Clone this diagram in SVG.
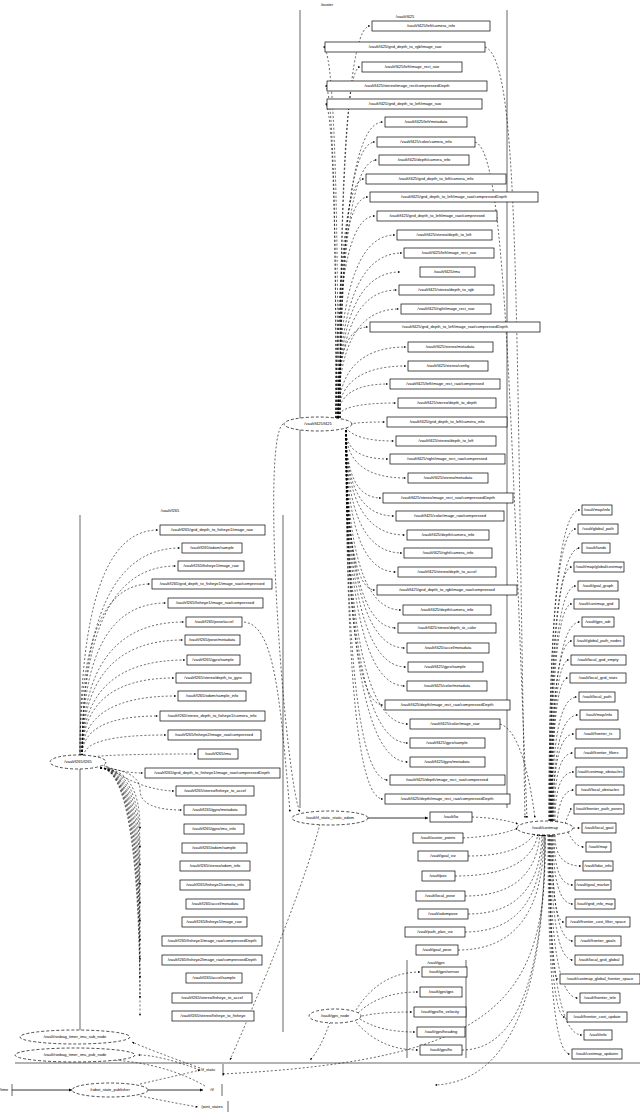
<svg xmlns="http://www.w3.org/2000/svg" width="640" height="1112" viewBox="0 0 640 1112">
<style>
text{font-family:"Liberation Sans",Arial,sans-serif;font-size:4px;fill:#000;text-anchor:middle;dominant-baseline:middle}
.b{fill:#fff;stroke:#000;stroke-width:0.7}
.n{fill:#fff;stroke:#000;stroke-width:0.7;stroke-dasharray:3,2}
.c{fill:none;stroke:#000;stroke-width:0.6}
.e{fill:none;stroke:#000;stroke-width:0.6;stroke-dasharray:2,2;marker-end:url(#a)}
.s{fill:none;stroke:#000;stroke-width:0.8;marker-end:url(#a)}
</style>
<defs><marker id="a" viewBox="0 0 6 6" refX="6" refY="3" markerWidth="4" markerHeight="4" orient="auto"><path d="M0,0L6,3L0,6z"/></marker></defs>
<rect width="640" height="1112" fill="#fff"/>
<g id="clusters">
<text x="327" y="5">/ouster</text>
<path class="c" d="M300,10V808M507,10V808"/>
<text x="405" y="17">/vault/f425</text>
<path class="c" d="M80,515V1032M283,515V1032"/>
<text x="170" y="511">/vault/f265</text>
<path class="c" d="M407,960V1058M466,960V1058"/>
<text x="436" y="963">/vault/gps</text>
<path class="c" d="M15,1063H640"/>
</g>
<g id="connectors">
<path class="e" d="M340,418Q340,26 370,26"/>
<path class="e" d="M338,418Q338,47 323,47"/>
<path class="e" d="M340,418Q340,67 360,67"/>
<path class="e" d="M336,418Q336,86 325,86"/>
<path class="e" d="M336,418Q336,104 325,104"/>
<path class="e" d="M340,418Q340,122 383,122"/>
<path class="e" d="M340,418Q340,142 375,142"/>
<path class="e" d="M340,418Q340,160 377,160"/>
<path class="e" d="M338,418Q338,179 364,179"/>
<path class="e" d="M336,418Q336,197 368,197"/>
<path class="e" d="M336,418Q336,216 375,216"/>
<path class="e" d="M338,418Q338,235 395,235"/>
<path class="e" d="M338,418Q338,253 402,253"/>
<path class="e" d="M338,418Q338,272 400,272"/>
<path class="e" d="M338,418Q338,290 397,290"/>
<path class="e" d="M338,418Q338,309 399,309"/>
<path class="e" d="M336,418Q336,327 368,327"/>
<path class="e" d="M338,418Q338,347 406,347"/>
<path class="e" d="M338,418Q338,366 406,366"/>
<path class="e" d="M338,418Q338,384 388,384"/>
<path class="e" d="M338,418Q338,403 396,403"/>
<path class="e" d="M350,424Q360,422 385,422"/>
<path class="e" d="M346,428Q356,441 394,441"/>
<path class="e" d="M346,430Q346,459 388,459"/>
<path class="e" d="M346,430Q346,478 406,478"/>
<path class="e" d="M346,430Q346,498 381,498"/>
<path class="e" d="M346,430Q346,516 394,516"/>
<path class="e" d="M346,430Q346,535 405,535"/>
<path class="e" d="M346,430Q346,553 402,553"/>
<path class="e" d="M346,430Q346,572 396,572"/>
<path class="e" d="M346,430Q346,590 375,590"/>
<path class="e" d="M346,430Q346,610 401,610"/>
<path class="e" d="M346,430Q346,628 396,628"/>
<path class="e" d="M346,430Q346,648 405,648"/>
<path class="e" d="M346,430Q346,667 406,667"/>
<path class="e" d="M346,430Q346,686 405,686"/>
<path class="e" d="M346,430Q346,705 383,705"/>
<path class="e" d="M346,430Q346,724 408,724"/>
<path class="e" d="M346,430Q346,743 408,743"/>
<path class="e" d="M346,430Q346,762 408,762"/>
<path class="e" d="M346,430Q346,780 388,780"/>
<path class="e" d="M346,430Q346,799 383,799"/>
<path class="e" d="M485,47C520,60 515,300 525,818"/>
<path class="e" d="M475,142C505,150 510,400 527,818"/>
<path class="e" d="M500,724C520,730 530,780 535,818"/>
<path class="e" d="M283,424C260,440 285,780 300,812"/>
<path class="e" d="M80,756Q80,530 158,530"/>
<path class="e" d="M82,756Q82,548 180,548"/>
<path class="e" d="M82,756Q82,566 176,566"/>
<path class="e" d="M80,756Q80,584 150,584"/>
<path class="e" d="M82,756Q82,603 166,603"/>
<path class="e" d="M82,756Q82,622 184,622"/>
<path class="e" d="M82,756Q82,640 183,640"/>
<path class="e" d="M82,756Q82,660 185,660"/>
<path class="e" d="M82,756Q82,678 174,678"/>
<path class="e" d="M82,756Q82,696 176,696"/>
<path class="e" d="M82,756Q82,716 158,716"/>
<path class="e" d="M84,756Q84,735 166,735"/>
<path class="e" d="M86,758Q100,754 196,754"/>
<path class="e" d="M100,764Q120,773 143,773"/>
<path class="e" d="M106,766Q140,790 174,791"/>
<path class="e" d="M106,768Q140,772 140,790Q140,810 182,810"/>
<path class="e" d="M100,768Q140,768 140,829 182,829"/>
<path class="e" d="M100,768Q140,768 140,848 180,848"/>
<path class="e" d="M100,768Q140,768 140,866 178,866"/>
<path class="e" d="M100,768Q140,768 140,885 178,885"/>
<path class="e" d="M100,768Q140,768 140,904 184,904"/>
<path class="e" d="M100,768Q140,768 140,922 180,922"/>
<path class="e" d="M100,768Q140,768 140,941 160,941"/>
<path class="e" d="M100,768Q140,768 140,960 160,960"/>
<path class="e" d="M100,768Q140,768 140,978 184,978"/>
<path class="e" d="M100,768Q140,768 140,998 170,998"/>
<path class="e" d="M100,768Q140,768 140,1016 170,1016"/>
<path class="e" d="M244,622C275,625 280,700 290,812"/>
<path class="s" d="M360,818H428"/>
<path class="e" d="M472,817Q500,818 518,824"/>
<path class="e" d="M463,838Q500,836 518,828"/>
<path class="e" d="M468,856Q520,856 535,833"/>
<path class="e" d="M455,876Q530,876 538,834"/>
<path class="e" d="M465,896Q535,896 540,834"/>
<path class="e" d="M468,914Q540,914 542,834"/>
<path class="e" d="M465,932Q542,932 543,834"/>
<path class="e" d="M458,950Q544,950 544,834"/>
<path class="e" d="M462,1050Q544,1050 545,834"/>
<path class="e" d="M545,834Q545,1080 435,1085"/>
<path class="e" d="M545,834C548,1000 500,1060 222,1074"/>
<path class="e" d="M549,821Q549,510 580,510"/>
<path class="e" d="M549,821Q549,529 576,529"/>
<path class="e" d="M550,821Q550,548 580,548"/>
<path class="e" d="M550,821Q550,567 572,567"/>
<path class="e" d="M550,821Q550,586 576,586"/>
<path class="e" d="M551,821Q551,604 572,604"/>
<path class="e" d="M551,821Q551,622 580,622"/>
<path class="e" d="M551,821Q551,641 572,641"/>
<path class="e" d="M552,821Q552,660 569,660"/>
<path class="e" d="M552,821Q552,678 568,678"/>
<path class="e" d="M552,821Q552,697 577,697"/>
<path class="e" d="M553,821Q553,715 578,715"/>
<path class="e" d="M553,821Q553,734 574,734"/>
<path class="e" d="M554,821Q554,753 573,753"/>
<path class="e" d="M555,821Q555,772 574,772"/>
<path class="e" d="M557,822Q560,790 574,790"/>
<path class="e" d="M565,824Q570,809 572,809"/>
<path class="e" d="M573,828L580,828"/>
<path class="e" d="M568,832Q575,847 584,847"/>
<path class="e" d="M555,835Q555,866 581,866"/>
<path class="e" d="M554,835Q554,885 573,885"/>
<path class="e" d="M553,835Q553,904 573,904"/>
<path class="e" d="M552,835Q552,922 564,922"/>
<path class="e" d="M552,835Q552,941 573,941"/>
<path class="e" d="M551,835Q551,960 573,960"/>
<path class="e" d="M550,835Q550,979 558,979"/>
<path class="e" d="M550,835Q550,998 578,998"/>
<path class="e" d="M549,835Q549,1017 565,1017"/>
<path class="e" d="M549,835Q549,1035 582,1035"/>
<path class="e" d="M548,835Q548,1054 570,1054"/>
<path class="e" d="M356,1010Q380,972 420,972"/>
<path class="e" d="M358,1013Q380,992 418,992"/>
<path class="e" d="M362,1016Q380,1012 412,1012"/>
<path class="e" d="M360,1019Q380,1032 415,1032"/>
<path class="e" d="M356,1022Q380,1050 418,1050"/>
<path class="e" d="M330,1022Q320,1050 310,1060"/>
<path class="e" d="M320,824Q300,900 230,1060"/>
<path class="s" d="M12,1090H72"/>
<path class="s" d="M148,1090H203"/>
<path class="e" d="M140,1084Q180,1075 200,1070"/>
<path class="e" d="M140,1096Q180,1104 198,1107"/>
<path class="e" d="M200,1070Q160,1055 138,1055"/>
<path class="e" d="M200,1068Q150,1050 132,1042"/>
<path class="e" d="M205,1086Q160,1060 93,1059"/>
</g>
<g id="nodes">
<g id="n_f425"><ellipse class="n" cx="318" cy="424" rx="34" ry="7"/><text x="318" y="424">/vault/f425/f425</text></g>
<g id="n_f265"><ellipse class="n" cx="78" cy="762" rx="28" ry="7"/><text x="78" y="762">/vault/f265/f265</text></g>
<g id="n_tf"><ellipse class="n" cx="330" cy="818" rx="38" ry="7"/><text x="330" y="818">/vault/tf_static_static_odom</text></g>
<g id="n_move"><ellipse class="n" cx="545" cy="828" rx="28" ry="7"/><text x="545" y="828">/vault/costmap</text></g>
<g id="n_gps"><ellipse class="n" cx="335" cy="1016" rx="26" ry="7"/><text x="335" y="1016">/vault/gps_node</text></g>
<g id="n_b1"><ellipse class="n" cx="75" cy="1037" rx="55" ry="7"/><text x="75" y="1037">/vault/rosbag_timer_imu_sub_node</text></g>
<g id="n_b2"><ellipse class="n" cx="75" cy="1055" rx="60" ry="7"/><text x="75" y="1055">/vault/rosbag_timer_imu_pub_node</text></g>
<g id="n_rsp"><ellipse class="n" cx="110" cy="1090" rx="38" ry="7"/><text x="110" y="1090">/robot_state_publisher</text></g>
<g id="t_time"><path class="c" d="M12,1084V1096"/><text x="4" y="1090">/time</text></g>
<g id="t_tfs"><path class="c" d="M223,1064V1076"/><text x="208" y="1070">/tf_static</text></g>
<g id="t_tf"><path class="c" d="M222,1084V1096"/><text x="212" y="1090">/tf</text></g>
<g id="t_js"><path class="c" d="M228,1101V1112"/><text x="212" y="1107">/joint_states</text></g>
</g>
<g id="topics">
<rect class="b" x="372" y="21" width="118" height="10"/><text x="431" y="26">/vault/f425/left/camera_info</text>
<rect class="b" x="325" y="42" width="160" height="10"/><text x="405" y="47">/vault/f425/grid_depth_to_rgb/image_raw</text>
<rect class="b" x="362" y="62" width="100" height="10"/><text x="412" y="67">/vault/f425/left/image_rect_raw</text>
<rect class="b" x="327" y="81" width="160" height="10"/><text x="407" y="86">/vault/f425/stereo/image_rect/compressedDepth</text>
<rect class="b" x="327" y="99" width="155" height="10"/><text x="405" y="104">/vault/f425/grid_depth_to_left/image_raw</text>
<rect class="b" x="385" y="117" width="82" height="10"/><text x="426" y="122">/vault/f425/left/metadata</text>
<rect class="b" x="377" y="137" width="98" height="10"/><text x="426" y="142">/vault/f425/color/camera_info</text>
<rect class="b" x="379" y="155" width="90" height="10"/><text x="424" y="160">/vault/f425/depth/camera_info</text>
<rect class="b" x="366" y="174" width="140" height="10"/><text x="436" y="179">/vault/f425/grid_depth_to_left/camera_info</text>
<rect class="b" x="370" y="192" width="168" height="10"/><text x="454" y="197">/vault/f425/grid_depth_to_left/image_raw/compressedDepth</text>
<rect class="b" x="377" y="211" width="120" height="10"/><text x="437" y="216">/vault/f425/grid_depth_to_left/image_raw/compressed</text>
<rect class="b" x="397" y="230" width="95" height="10"/><text x="444" y="235">/vault/f425/stereo/depth_to_left</text>
<rect class="b" x="404" y="248" width="90" height="10"/><text x="449" y="253">/vault/f425/left/image_rect_raw</text>
<rect class="b" x="420" y="267" width="55" height="10"/><text x="447" y="272">/vault/f425/imu</text>
<rect class="b" x="399" y="285" width="95" height="10"/><text x="446" y="290">/vault/f425/stereo/depth_to_rgb</text>
<rect class="b" x="401" y="304" width="90" height="10"/><text x="446" y="309">/vault/f425/right/image_rect_raw</text>
<rect class="b" x="370" y="322" width="170" height="10"/><text x="455" y="327">/vault/f425/grid_depth_to_left/image_raw/compressedDepth</text>
<rect class="b" x="408" y="342" width="85" height="10"/><text x="450" y="347">/vault/f425/stereo/metadata</text>
<rect class="b" x="408" y="361" width="80" height="10"/><text x="448" y="366">/vault/f425/stereo/config</text>
<rect class="b" x="390" y="379" width="110" height="10"/><text x="445" y="384">/vault/f425/left/image_rect_raw/compressed</text>
<rect class="b" x="398" y="398" width="98" height="10"/><text x="447" y="403">/vault/f425/stereo/depth_to_depth</text>
<rect class="b" x="387" y="417" width="120" height="10"/><text x="447" y="422">/vault/f425/grid_depth_to_left/camera_info</text>
<rect class="b" x="396" y="436" width="100" height="10"/><text x="446" y="441">/vault/f425/stereo/depth_to_left</text>
<rect class="b" x="390" y="454" width="115" height="10"/><text x="447" y="459">/vault/f425/right/image_rect_raw/compressed</text>
<rect class="b" x="408" y="473" width="80" height="10"/><text x="448" y="478">/vault/f425/stereo/metadata</text>
<rect class="b" x="383" y="493" width="130" height="10"/><text x="448" y="498">/vault/f425/stereo/image_rect_raw/compressedDepth</text>
<rect class="b" x="396" y="511" width="108" height="10"/><text x="450" y="516">/vault/f425/color/image_raw/compressed</text>
<rect class="b" x="407" y="530" width="82" height="10"/><text x="448" y="535">/vault/f425/depth/camera_info</text>
<rect class="b" x="404" y="548" width="88" height="10"/><text x="448" y="553">/vault/f425/right/camera_info</text>
<rect class="b" x="398" y="567" width="98" height="10"/><text x="447" y="572">/vault/f425/stereo/depth_to_accel</text>
<rect class="b" x="377" y="585" width="140" height="10"/><text x="447" y="590">/vault/f425/grid_depth_to_rgb/image_raw/compressed</text>
<rect class="b" x="403" y="605" width="88" height="10"/><text x="447" y="610">/vault/f425/depth/camera_info</text>
<rect class="b" x="398" y="623" width="98" height="10"/><text x="447" y="628">/vault/f425/stereo/depth_to_color</text>
<rect class="b" x="407" y="643" width="82" height="10"/><text x="448" y="648">/vault/f425/accel/metadata</text>
<rect class="b" x="408" y="662" width="75" height="10"/><text x="445" y="667">/vault/f425/gyro/sample</text>
<rect class="b" x="407" y="681" width="80" height="10"/><text x="447" y="686">/vault/f425/color/metadata</text>
<rect class="b" x="385" y="700" width="125" height="10"/><text x="447" y="705">/vault/f425/depth/image_rect_raw/compressedDepth</text>
<rect class="b" x="410" y="719" width="90" height="10"/><text x="455" y="724">/vault/f425/color/image_raw</text>
<rect class="b" x="410" y="738" width="75" height="10"/><text x="447" y="743">/vault/f425/gyro/sample</text>
<rect class="b" x="410" y="757" width="75" height="10"/><text x="447" y="762">/vault/f425/gyro/metadata</text>
<rect class="b" x="390" y="775" width="115" height="10"/><text x="447" y="780">/vault/f425/depth/image_rect_raw/compressed</text>
<rect class="b" x="385" y="794" width="125" height="10"/><text x="447" y="799">/vault/f425/depth/image_rect_raw/compressedDepth</text>

<rect class="b" x="160" y="525" width="105" height="10"/><text x="212" y="530">/vault/f265/grid_depth_to_fisheye1/image_raw</text>
<rect class="b" x="182" y="543" width="60" height="10"/><text x="212" y="548">/vault/f265/odom/sample</text>
<rect class="b" x="178" y="561" width="66" height="10"/><text x="211" y="566">/vault/f265/fisheye1/image_raw</text>
<rect class="b" x="152" y="579" width="120" height="10"/><text x="212" y="584">/vault/f265/grid_depth_to_fisheye1/image_raw/compressed</text>
<rect class="b" x="168" y="598" width="95" height="10"/><text x="215" y="603">/vault/f265/fisheye1/image_raw/compressed</text>
<rect class="b" x="186" y="617" width="56" height="10"/><text x="214" y="622">/vault/f265/pose/accel</text>
<rect class="b" x="185" y="635" width="55" height="10"/><text x="212" y="640">/vault/f265/pose/metadata</text>
<rect class="b" x="187" y="655" width="53" height="10"/><text x="213" y="660">/vault/f265/gyro/sample</text>
<rect class="b" x="176" y="673" width="75" height="10"/><text x="213" y="678">/vault/f265/stereo/depth_to_gyro</text>
<rect class="b" x="178" y="691" width="68" height="10"/><text x="212" y="696">/vault/f265/odom/sample_info</text>
<rect class="b" x="160" y="711" width="105" height="10"/><text x="212" y="716">/vault/f265/stereo_depth_to_fisheye1/camera_info</text>
<rect class="b" x="168" y="730" width="93" height="10"/><text x="214" y="735">/vault/f265/fisheye2/image_raw/compressed</text>
<rect class="b" x="198" y="749" width="40" height="10"/><text x="218" y="754">/vault/f265/imu</text>
<rect class="b" x="145" y="768" width="135" height="10"/><text x="212" y="773">/vault/f265/grid_depth_to_fisheye1/image_raw/compressedDepth</text>
<rect class="b" x="176" y="786" width="78" height="10"/><text x="215" y="791">/vault/f265/stereo/fisheye_to_accel</text>
<rect class="b" x="184" y="805" width="62" height="10"/><text x="215" y="810">/vault/f265/gyro/metadata</text>
<rect class="b" x="184" y="824" width="60" height="10"/><text x="214" y="829">/vault/f265/gyro/imu_info</text>
<rect class="b" x="182" y="843" width="65" height="10"/><text x="214" y="848">/vault/f265/odom/sample</text>
<rect class="b" x="180" y="861" width="70" height="10"/><text x="215" y="866">/vault/f265/stereo/odom_info</text>
<rect class="b" x="180" y="880" width="70" height="10"/><text x="215" y="885">/vault/f265/fisheye2/camera_info</text>
<rect class="b" x="186" y="899" width="58" height="10"/><text x="215" y="904">/vault/f265/accel/metadata</text>
<rect class="b" x="182" y="917" width="65" height="10"/><text x="214" y="922">/vault/f265/fisheye1/image_raw</text>
<rect class="b" x="162" y="936" width="100" height="10"/><text x="212" y="941">/vault/f265/fisheye1/image_raw/compressedDepth</text>
<rect class="b" x="162" y="955" width="100" height="10"/><text x="212" y="960">/vault/f265/fisheye2/image_raw/compressedDepth</text>
<rect class="b" x="186" y="973" width="56" height="10"/><text x="214" y="978">/vault/f265/accel/sample</text>
<rect class="b" x="172" y="993" width="80" height="10"/><text x="212" y="998">/vault/f265/stereo/fisheye_to_accel</text>
<rect class="b" x="172" y="1011" width="82" height="10"/><text x="213" y="1016">/vault/f265/stereo/fisheye_to_fisheye</text>

<rect class="b" x="582" y="505" width="30" height="10"/><text x="597" y="510">/vault/map/info</text>
<rect class="b" x="578" y="524" width="40" height="10"/><text x="598" y="529">/vault/global_path</text>
<rect class="b" x="582" y="543" width="28" height="10"/><text x="596" y="548">/vault/lands</text>
<rect class="b" x="574" y="562" width="50" height="10"/><text x="599" y="567">/vault/map/global/costmap</text>
<rect class="b" x="578" y="581" width="40" height="10"/><text x="598" y="586">/vault/goal_graph</text>
<rect class="b" x="574" y="599" width="45" height="10"/><text x="596" y="604">/vault/costmap_grid</text>
<rect class="b" x="582" y="617" width="32" height="10"/><text x="598" y="622">/vault/gps_odr</text>
<rect class="b" x="574" y="636" width="50" height="10"/><text x="599" y="641">/vault/global_path_nodes</text>
<rect class="b" x="571" y="655" width="55" height="10"/><text x="598" y="660">/vault/local_grid_empty</text>
<rect class="b" x="570" y="673" width="56" height="10"/><text x="598" y="678">/vault/local_grid_stats</text>
<rect class="b" x="579" y="692" width="36" height="10"/><text x="597" y="697">/vault/local_path</text>
<rect class="b" x="580" y="710" width="38" height="10"/><text x="599" y="715">/vault/map/info</text>
<rect class="b" x="576" y="729" width="44" height="10"/><text x="598" y="734">/vault/frontier_ts</text>
<rect class="b" x="575" y="748" width="52" height="10"/><text x="601" y="753">/vault/frontier_filters</text>
<rect class="b" x="576" y="767" width="48" height="10"/><text x="600" y="772">/vault/costmap_obstacles</text>
<rect class="b" x="576" y="785" width="48" height="10"/><text x="600" y="790">/vault/local_obstacles</text>
<rect class="b" x="574" y="804" width="50" height="10"/><text x="599" y="809">/vault/frontier_path_poses</text>
<rect class="b" x="582" y="823" width="34" height="10"/><text x="599" y="828">/vault/local_goal</text>
<rect class="b" x="586" y="842" width="25" height="10"/><text x="598" y="847">/vault/map</text>
<rect class="b" x="583" y="861" width="30" height="10"/><text x="598" y="866">/vault/lidar_info</text>
<rect class="b" x="575" y="880" width="36" height="10"/><text x="593" y="885">/vault/goal_marker</text>
<rect class="b" x="575" y="899" width="40" height="10"/><text x="595" y="904">/vault/grid_info_map</text>
<rect class="b" x="566" y="917" width="64" height="10"/><text x="598" y="922">/vault/frontier_cost_filter_space</text>
<rect class="b" x="575" y="936" width="46" height="10"/><text x="598" y="941">/vault/frontier_goals</text>
<rect class="b" x="575" y="955" width="48" height="10"/><text x="599" y="960">/vault/local_grid_global</text>
<rect class="b" x="560" y="974" width="80" height="10"/><text x="600" y="979">/vault/costmap_global_frontier_space</text>
<rect class="b" x="580" y="993" width="40" height="10"/><text x="600" y="998">/vault/frontier_tele</text>
<rect class="b" x="567" y="1012" width="60" height="10"/><text x="597" y="1017">/vault/frontier_cost_update</text>
<rect class="b" x="584" y="1030" width="28" height="10"/><text x="598" y="1035">/vault/info</text>
<rect class="b" x="572" y="1049" width="50" height="10"/><text x="597" y="1054">/vault/costmap_updates</text>

<rect class="b" x="430" y="812" width="42" height="10"/><text x="451" y="817">/vault/lio</text>
<rect class="b" x="413" y="833" width="50" height="10"/><text x="438" y="838">/vault/ouster_points</text>
<rect class="b" x="418" y="851" width="50" height="10"/><text x="443" y="856">/vault/goal_viz</text>
<rect class="b" x="422" y="871" width="33" height="10"/><text x="438" y="876">/vault/pos</text>
<rect class="b" x="416" y="891" width="49" height="10"/><text x="440" y="896">/vault/local_pose</text>
<rect class="b" x="418" y="909" width="50" height="10"/><text x="443" y="914">/vault/odompose</text>
<rect class="b" x="405" y="927" width="60" height="10"/><text x="435" y="932">/vault/path_plan_viz</text>
<rect class="b" x="416" y="945" width="42" height="10"/><text x="437" y="950">/vault/goal_pose</text>
<rect class="b" x="422" y="967" width="45" height="10"/><text x="444" y="972">/vault/gps/sensor</text>
<rect class="b" x="420" y="987" width="42" height="10"/><text x="441" y="992">/vault/gps/gps</text>
<rect class="b" x="414" y="1007" width="52" height="10"/><text x="440" y="1012">/vault/gps/fix_velocity</text>
<rect class="b" x="417" y="1027" width="48" height="10"/><text x="441" y="1032">/vault/gps/heading</text>
<rect class="b" x="420" y="1045" width="42" height="10"/><text x="441" y="1050">/vault/gps/fix</text>
</g>
</svg>
